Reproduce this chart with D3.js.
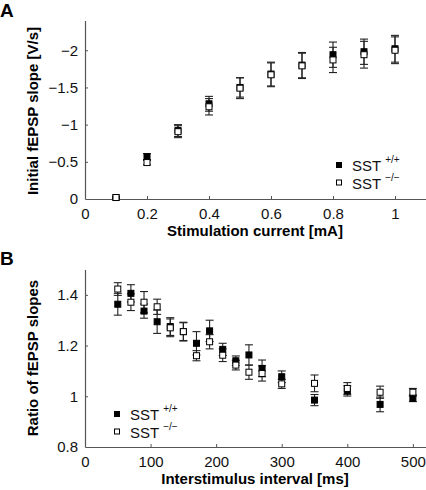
<!DOCTYPE html>
<html><head><meta charset="utf-8">
<script src="https://cdn.jsdelivr.net/npm/d3@7"></script>
<style>
body{margin:0;background:#fff;}
text{font-family:"Liberation Sans",Arial,sans-serif;}
</style></head>
<body><svg id="c" width="426" height="490"></svg>
<script>
// Panel A data
const currentsA = [0.1,0.2,0.3,0.4,0.5,0.6,0.7,0.8,0.9,1.0];
const wtA    = [-0.02,-0.57,-0.92,-1.28,-1.50,-1.68,-1.80,-1.94,-1.98,-2.02];
const wtAErr = [0.01,0.04,0.08,0.10,0.13,0.16,0.17,0.17,0.17,0.18];
const koA    = [-0.02,-0.49,-0.905,-1.24,-1.49,-1.67,-1.79,-1.87,-1.94,-2.00];
const koAErr = [0.01,0.03,0.08,0.11,0.14,0.16,0.17,0.17,0.18,0.18];
const xTicksA = [0,0.2,0.4,0.6,0.8,1];
const yTicksA = [0,-0.5,-1,-1.5,-2];
// Panel B data
const intervalsB = [50,70,90,110,130,150,170,190,210,230,250,270,300,350,400,450,500];
const wtB    = [1.363,1.406,1.336,1.294,1.275,1.255,1.209,1.258,1.185,1.14,1.163,1.11,1.077,0.985,1.021,0.968,0.992];
const wtBErr = [0.043,0.034,0.028,0.046,0.035,0.037,0.046,0.042,0.024,0.019,0.04,0.033,0.023,0.022,0.02,0.029,0.013];
const koB    = [1.423,1.371,1.371,1.353,1.27,1.255,1.16,1.215,1.162,1.123,1.095,1.09,1.049,1.051,1.031,1.016,1.016];
const koBErr = [0.025,0.033,0.042,0.03,0.035,0.035,0.02,0.028,0.025,0.019,0.028,0.03,0.018,0.033,0.023,0.024,0.015];
const xTicksB = [0,100,200,300,400,500];
const yTicksB = [0.8,1,1.2,1.4];
const legendLabels = [["SST","+/+"],["SST","\u2212/\u2212"]];

const svg = d3.select("#c");
const axisColor = "#555";
const fmt = d => d3.format("")(d);

function panel(cfg){
  const g = svg.append("g");
  const x = d3.scaleLinear().domain(cfg.xDom).range([85,426]);
  const y = d3.scaleLinear().domain(cfg.yDom).range([cfg.y0, cfg.yTop]);
  // axes
  const xa = g.append("g").attr("transform",`translate(0,${cfg.y0})`)
    .call(d3.axisBottom(x).tickValues(cfg.xTicks).tickSizeInner(-3).tickSizeOuter(0).tickPadding(9).tickFormat(fmt));
  const ya = g.append("g").attr("transform",`translate(85,0)`)
    .call(d3.axisLeft(y).tickValues(cfg.yTicks).tickSizeInner(-3).tickSizeOuter(0).tickPadding(7).tickFormat(fmt));
  [xa,ya].forEach(a=>{
    a.select(".domain").attr("stroke",axisColor).attr("stroke-width",1.2);
    a.selectAll(".tick line").attr("stroke",axisColor);
    a.selectAll(".tick text").attr("fill","#111").style("font-size","15px").style("font-family","Liberation Sans, Arial, sans-serif");
  });
  ya.selectAll(".tick line").filter(d=>d===cfg.yDom[0]).remove();
  // titles
  g.append("text").attr("x",255).attr("y",cfg.y0+37).attr("text-anchor","middle")
    .style("font-size","15px").style("font-weight","bold").text(cfg.xTitle);
  g.append("text").attr("transform",`translate(38,${cfg.yMid}) rotate(-90)`).attr("text-anchor","middle")
    .style("font-size","15px").style("font-weight","bold").text(cfg.yTitle);
  g.append("text").attr("x",0).attr("y",cfg.letterY).style("font-size","19px").style("font-weight","bold").text(cfg.letter);
  // error bars
  const series = [
    {xs:cfg.xs, v:cfg.wt, e:cfg.wtErr, fill:"#000"},
    {xs:cfg.xs, v:cfg.ko, e:cfg.koErr, fill:"#fff"}
  ];
  series.forEach(s=>{
    const eg = g.append("g").attr("stroke","#222").attr("stroke-width",1.1);
    s.xs.forEach((xv,i)=>{
      const px = x(xv), y1 = y(s.v[i]-s.e[i]), y2 = y(s.v[i]+s.e[i]);
      eg.append("line").attr("x1",px).attr("x2",px).attr("y1",y1).attr("y2",y2);
      eg.append("line").attr("x1",px-4).attr("x2",px+4).attr("y1",y1).attr("y2",y1);
      eg.append("line").attr("x1",px-4).attr("x2",px+4).attr("y1",y2).attr("y2",y2);
    });
  });
  series.forEach(s=>{
    g.append("g").selectAll("rect").data(s.xs).join("rect")
      .attr("x",(d)=>x(d)-3).attr("y",(d,i)=>y(s.v[i])-3)
      .attr("width",6).attr("height",6)
      .attr("fill",s.fill).attr("stroke","#000").attr("stroke-width",1);
  });
  // legend
  legendLabels.forEach((lab,i)=>{
    const ly = cfg.legY + i*17.5;
    g.append("rect").attr("x",cfg.legX-2.5).attr("y",ly-8.5).attr("width",5).attr("height",5)
      .attr("fill", i===0?"#000":"#fff").attr("stroke","#000").attr("stroke-width",1);
    const t = g.append("text").attr("x",cfg.legX+13).attr("y",ly).style("font-size","15px").attr("fill","#111");
    t.append("tspan").text(lab[0]);
    t.append("tspan").attr("dx",4).attr("dy",-8).style("font-size","10px").text(lab[1]);
  });
}

panel({xDom:[0,1.1], yDom:[0,-2.4], y0:199, yTop:20.5, xTicks:xTicksA, yTicks:yTicksA,
  xs:currentsA, wt:wtA, wtErr:wtAErr, ko:koA, koErr:koAErr,
  xTitle:"Stimulation current [mA]", yTitle:"Initial fEPSP slope [V/s]", yMid:111,
  letter:"A", letterY:17, legX:339, legY:171});
panel({xDom:[0,520], yDom:[0.8,1.5], y0:447, yTop:269.5, xTicks:xTicksB, yTicks:yTicksB,
  xs:intervalsB, wt:wtB, wtErr:wtBErr, ko:koB, koErr:koBErr,
  xTitle:"Interstimulus interval [ms]", yTitle:"Ratio of fEPSP slopes", yMid:358,
  letter:"B", letterY:265, legX:117, legY:420});
</script></body></html>
